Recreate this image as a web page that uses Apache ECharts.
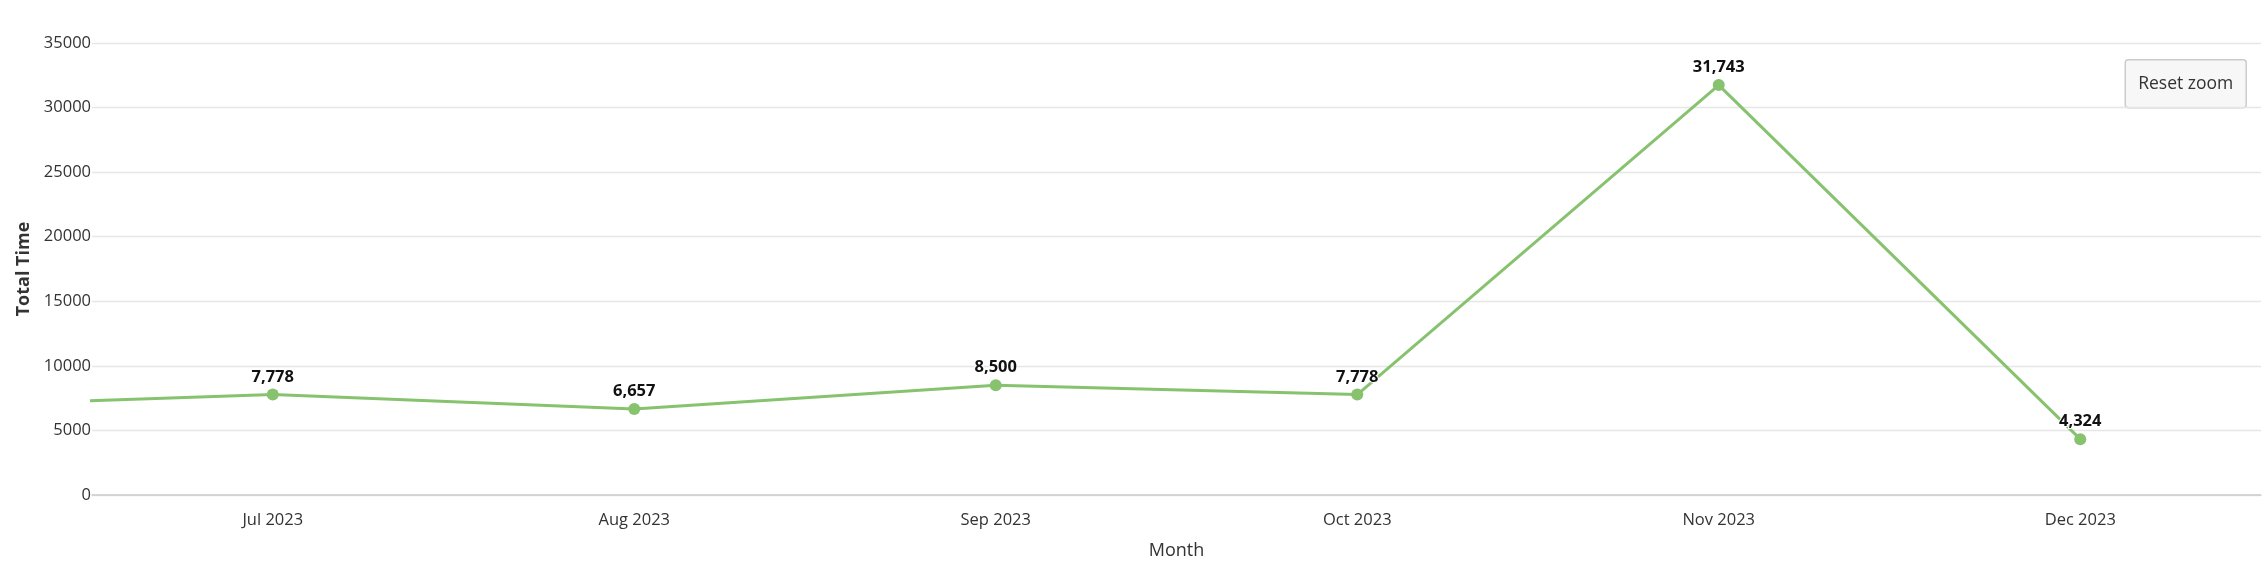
<!DOCTYPE html>
<html>
<head>
<meta charset="utf-8">
<script src="https://cdn.jsdelivr.net/npm/echarts@6/dist/echarts.min.js"></script>
<style>
  html, body { margin: 0; padding: 0; background: #fff; }
  #chart { width: 2266px; height: 574px; }
</style>
</head>
<body>
<div id="chart"></div>
<script>
// Visible months (x-axis categories)
const months = ['Jul 2023', 'Aug 2023', 'Sep 2023', 'Oct 2023', 'Nov 2023', 'Dec 2023'];
// Total time per month
const totalTime = [7778, 6657, 8500, 7778, 31743, 4324];
// Previous month (Jun 2023), scrolled out of view by the zoom; only its line segment shows
const previousMonthValue = 6820;
// Y axis ticks
const yMin = 0, yMax = 35000, yStep = 5000;

// Series points on a band-index value axis: month i sits at the middle of band i
const points = [[-0.5, previousMonthValue]].concat(totalTime.map((v, i) => [i + 0.5, v]));

const FONT = '"Open Sans", "Noto Sans", sans-serif';
const chart = echarts.init(document.getElementById('chart'), null, { renderer: 'canvas' });

chart.setOption({
  animation: false,
  backgroundColor: '#ffffff',
  textStyle: { fontFamily: FONT },
  grid: { left: 92, right: 5, top: 43, bottom: 79, containLabel: false },
  xAxis: [
    {
      type: 'category',
      data: months,
      boundaryGap: true,
      name: 'Month',
      nameLocation: 'middle',
      nameGap: 47,
      nameTextStyle: { fontFamily: FONT, fontSize: 18, color: '#333333' },
      axisLine: { show: true, lineStyle: { color: '#cccccc', width: 1.5 } },
      axisTick: { show: false },
      axisLabel: { margin: 17, fontFamily: FONT, fontSize: 16.5, color: '#333333' },
      splitLine: { show: false }
    },
    {
      type: 'value',
      show: false,
      min: 0,
      max: months.length,
      splitLine: { show: false }
    }
  ],
  yAxis: {
    type: 'value',
    min: yMin,
    max: yMax,
    interval: yStep,
    name: 'Total Time',
    nameLocation: 'middle',
    nameGap: 52,
    nameTextStyle: { fontFamily: FONT, fontSize: 18, fontWeight: 'bold', color: '#333333' },
    axisLine: { show: false },
    axisTick: { show: false },
    axisLabel: {
      margin: 1,
      fontFamily: FONT,
      fontSize: 16.5,
      color: '#333333',
      formatter: v => String(v)
    },
    splitLine: { show: true, lineStyle: { color: '#e6e6e6', width: 1.3 } }
  },
  series: [
    {
      type: 'line',
      xAxisIndex: 1,
      data: points,
      clip: true,
      symbol: 'circle',
      symbolSize: 12,
      showAllSymbol: true,
      lineStyle: { color: '#87c26f', width: 3 },
      itemStyle: { color: '#87c26f' },
      label: {
        show: true,
        position: 'top',
        distance: 3,
        fontFamily: FONT,
        fontSize: 16.5,
        fontWeight: 'bold',
        color: '#111111',
        textBorderColor: '#ffffff',
        textBorderWidth: 2,
        formatter: p => p.value[1].toLocaleString('en-US')
      },
      emphasis: { disabled: true }
    }
  ],
  graphic: [
    {
      type: 'group',
      right: 19,
      top: 59,
      children: [
        {
          type: 'rect',
          shape: { x: 0, y: 0, width: 121, height: 48, r: 3 },
          style: { fill: '#f7f7f7', stroke: '#cccccc', lineWidth: 1.5 }
        },
        {
          type: 'text',
          x: 60.5,
          y: 24,
          style: {
            text: 'Reset zoom',
            fontFamily: FONT,
            fontSize: 17.5,
            fill: '#333333',
            align: 'center',
            verticalAlign: 'middle'
          }
        }
      ]
    }
  ]
});
</script>
</body>
</html>
